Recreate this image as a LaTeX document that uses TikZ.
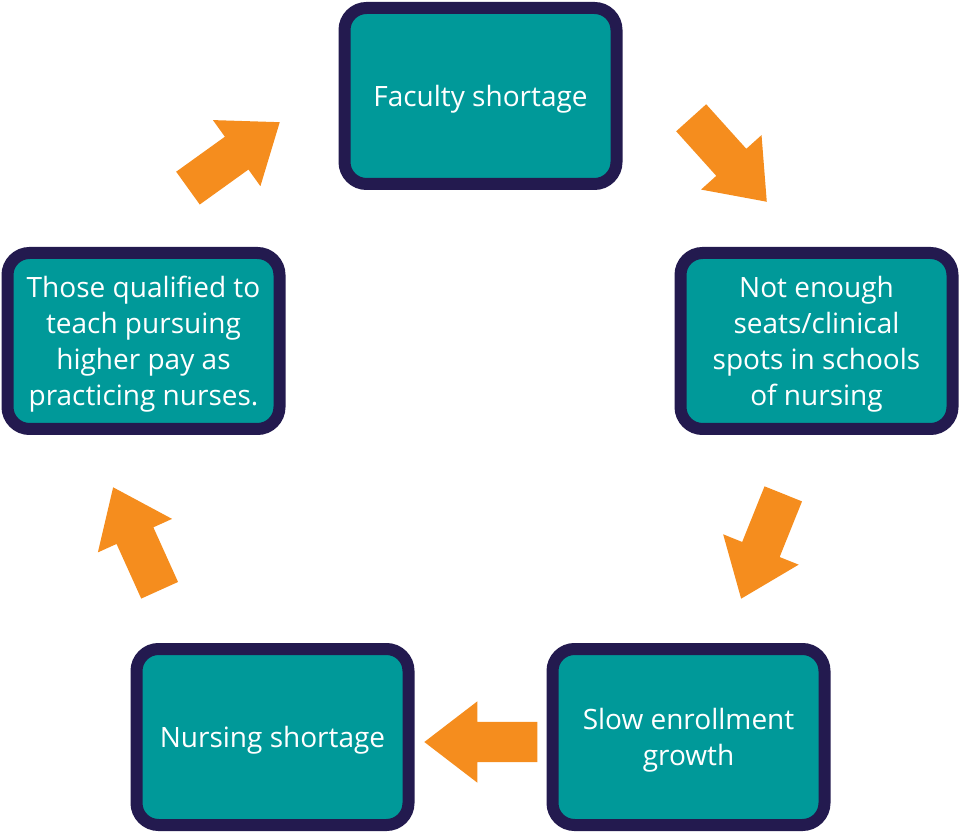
\documentclass[tikz,border=0pt]{standalone}
\usepackage{fontspec}
\setmainfont{Open Sans}
\usetikzlibrary{shapes.arrows}
\definecolor{marco}{HTML}{231A4F}
\definecolor{turquesa}{HTML}{009999}
\definecolor{naranja}{HTML}{F58D1E}

\begin{document}
\begin{tikzpicture}[x=1pt, y=1pt,
  caja/.style={draw=marco, line width=12pt, fill=turquesa, rounded corners=22pt, minimum width=272pt, minimum height=176pt, align=center, text=white, text depth=0pt, font=\fontsize{28}{36}\selectfont},
  flecha/.style={single arrow, fill=naranja, draw=none, inner xsep=0pt, inner ysep=20pt, minimum height=113pt, single arrow head extend=20.5pt, single arrow tip angle=75, anchor=tip}]
\useasboundingbox (0,0) rectangle (960,833);
\node[caja] (faculty) at (480.5,737) {Faculty shortage};
\node[caja] (seats) at (816.5,492) {Not enough\\ seats/clinical\\ spots in schools\\ of nursing};
\node[caja] (slow) at (688.5,96) {Slow enrollment\\ growth};
\node[caja] (nursing) at (272.5,96) {Nursing shortage};
\node[caja] (qualified) at (143.5,492) {Those qualified to\\ teach pursuing\\ higher pay as\\ practicing nurses.};
% flechas del ciclo (puestas por la punta)
\node[flecha, rotate=-48] (f1) at (767,631) {};
\node[flecha, rotate=-111.9] (f2) at (741,234) {};
\node[flecha, rotate=180] (f3) at (424,91) {};
\node[flecha, rotate=114.3] (f4) at (113,346) {};
\node[flecha, rotate=35.7] (f5) at (280,711) {};
\end{tikzpicture}
\end{document}
